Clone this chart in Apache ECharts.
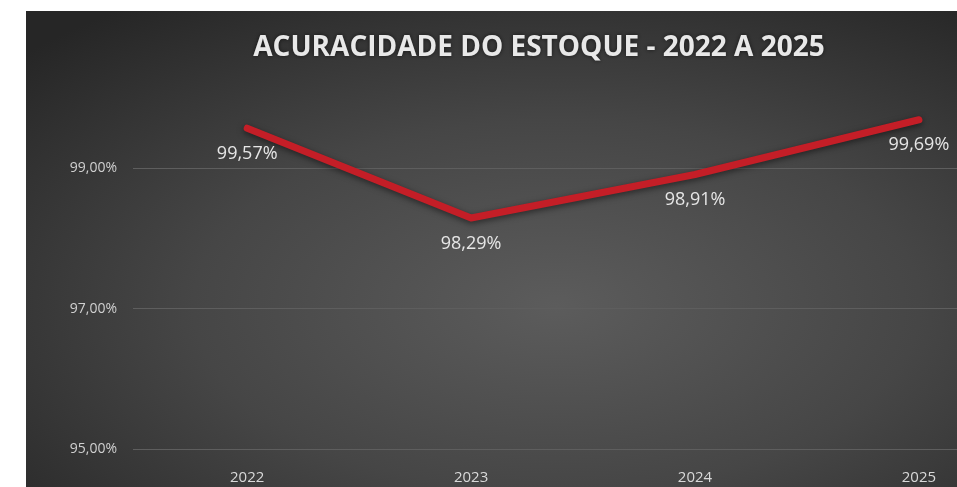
<!DOCTYPE html>
<html>
<head>
<meta charset="utf-8">
<script src="https://cdn.jsdelivr.net/npm/echarts@6/dist/echarts.min.js"></script>
<style>
  html, body { margin: 0; padding: 0; background: #ffffff; }
  #chart { width: 957px; height: 487px; }
</style>
</head>
<body>
<div id="chart"></div>
<script>
// Inventory accuracy by year
const years = [2022, 2023, 2024, 2025];
const accuracy = [99.57, 98.29, 98.91, 99.69];
const yMin = 95;
const yMax = 100;
const yStep = 2;
// horizontal extent of the year scale; the right end is cut by the chart border
const xMin = 2021.49;
const xMax = 2025.17;
const titleText = 'ACURACIDADE DO ESTOQUE - 2022 A 2025';

const fmtPct = v => v.toFixed(2).replace('.', ',') + '%';
const points = years.map((y, i) => [y, accuracy[i]]);

const chart = echarts.init(document.getElementById('chart'));
chart.setOption({
  backgroundColor: '#ffffff',
  animation: false,
  graphic: [{
    // square panel stretched horizontally so the radial shading becomes elliptical
    type: 'rect',
    z: -100,
    silent: true,
    x: 26, y: 11,
    scaleX: 931 / 476,
    shape: { x: 0, y: 0, width: 476, height: 476 },
    style: {
      fill: {
        type: 'radial', x: 0.57, y: 0.62, r: 0.78,
        colorStops: [
          { offset: 0, color: '#5c5c5c' },
          { offset: 0.5, color: '#464646' },
          { offset: 1, color: '#262626' }
        ]
      }
    }
  }],
  title: {
    text: titleText,
    left: 534, top: 29, textAlign: 'center',
    textStyle: {
      fontFamily: 'Open Sans', fontWeight: 'bold', fontSize: 28,
      color: '#e8e8e8', textShadowColor: 'rgba(0,0,0,0.6)', textShadowBlur: 4
    }
  },
  grid: { left: 133, right: 0, top: 98, bottom: 38, containLabel: false },
  xAxis: {
    type: 'value',
    min: xMin, max: xMax,
    splitLine: { show: false },
    axisLine: { show: false },
    axisTick: { show: false },
    axisLabel: {
      customValues: years,
      color: '#d9d9d9', fontFamily: 'Open Sans', fontSize: 15, margin: 21,
      formatter: v => String(v)
    }
  },
  yAxis: {
    type: 'value',
    min: yMin, max: yMax, interval: yStep,
    axisLine: { show: false },
    axisTick: { show: false },
    axisLabel: {
      color: '#d0d0d0', fontFamily: 'Open Sans', fontSize: 14, margin: 16,
      formatter: v => (v === yMax ? '' : fmtPct(v))
    },
    splitLine: { showMaxLine: false, lineStyle: { color: '#5e5e5e', width: 1 } }
  },
  series: [{
    type: 'line',
    data: points,
    symbol: 'circle',
    symbolSize: 1,
    showSymbol: true,
    itemStyle: { color: 'rgba(0,0,0,0)' },
    lineStyle: {
      color: '#c41e27', width: 7, cap: 'round', join: 'round',
      shadowColor: 'rgba(0,0,0,0.5)', shadowBlur: 6, shadowOffsetY: 2
    },
    label: {
      show: true, position: 'bottom', distance: 16,
      color: '#e6e6e6', fontFamily: 'Open Sans', fontSize: 18,
      formatter: p => fmtPct(p.value[1])
    }
  }]
});
</script>
</body>
</html>
